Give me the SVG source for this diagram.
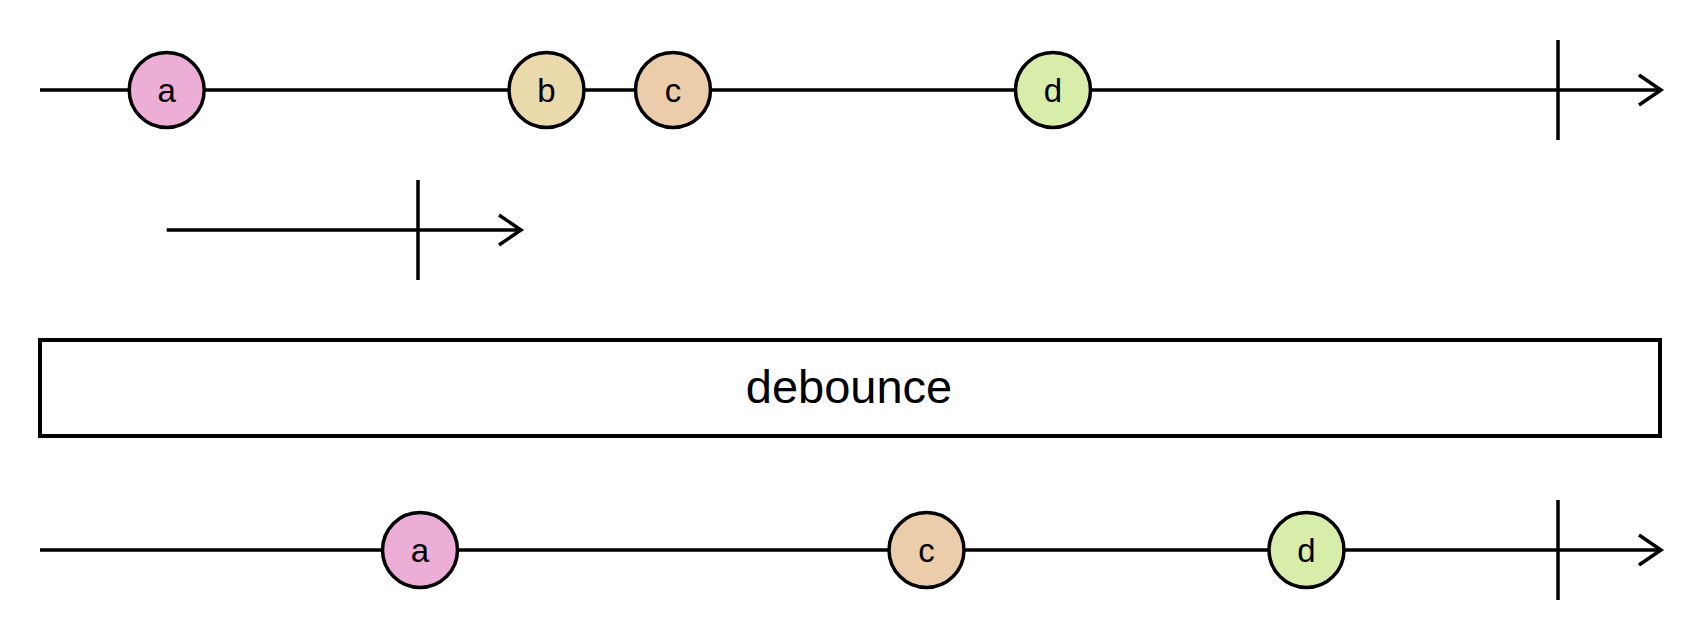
<svg xmlns="http://www.w3.org/2000/svg" width="1700" height="640" viewBox="0 0 1700 640">
<style>
.ln{stroke:#000;stroke-width:3.5;fill:none}
.m{stroke:#000;stroke-width:3.5}
.t{font-family:"Liberation Sans",Arial,sans-serif;font-size:33px;fill:#000;text-anchor:middle}
.op{font-family:"Liberation Sans",Arial,sans-serif;font-size:47px;fill:#000;text-anchor:middle}
</style>
<defs>
<marker id="ah" markerWidth="30" markerHeight="40" viewBox="-25 -20 30 40" refX="0" refY="0" markerUnits="userSpaceOnUse" orient="auto">
<path d="M-22,-15 L0,0 L-22,15" fill="none" stroke="#000" stroke-width="3.5"/>
</marker>
</defs>
<g id="connectors">
<line class="ln" x1="40" y1="90" x2="1661" y2="90" marker-end="url(#ah)"/>
<line class="ln" x1="1558" y1="40" x2="1558" y2="140"/>
<line class="ln" x1="166.7" y1="230" x2="521" y2="230" marker-end="url(#ah)"/>
<line class="ln" x1="418" y1="180" x2="418" y2="280"/>
<line class="ln" x1="40" y1="550" x2="1661" y2="550" marker-end="url(#ah)"/>
<line class="ln" x1="1558" y1="500" x2="1558" y2="600"/>
</g>
<g id="in-a"><circle class="m" cx="166.7" cy="90" r="37.5" fill="#ecadd6"/><text class="t" x="166.7" y="101.5">a</text></g>
<g id="in-b"><circle class="m" cx="546.5" cy="90" r="37.5" fill="#eadaab"/><text class="t" x="546.5" y="101.5">b</text></g>
<g id="in-c"><circle class="m" cx="673" cy="90" r="37.5" fill="#ebcdac"/><text class="t" x="673" y="101.5">c</text></g>
<g id="in-d"><circle class="m" cx="1053" cy="90" r="37.5" fill="#d9edab"/><text class="t" x="1053" y="101.5">d</text></g>
<g id="operator"><rect x="40" y="340" width="1620" height="96" fill="#fff" stroke="#000" stroke-width="4"/><text class="op" x="849" y="403">debounce</text></g>
<g id="out-a"><circle class="m" cx="420" cy="550" r="37.5" fill="#ecadd6"/><text class="t" x="420" y="561.5">a</text></g>
<g id="out-c"><circle class="m" cx="926.5" cy="550" r="37.5" fill="#ebcdac"/><text class="t" x="926.5" y="561.5">c</text></g>
<g id="out-d"><circle class="m" cx="1306.5" cy="550" r="37.5" fill="#d9edab"/><text class="t" x="1306.5" y="561.5">d</text></g>
</svg>
